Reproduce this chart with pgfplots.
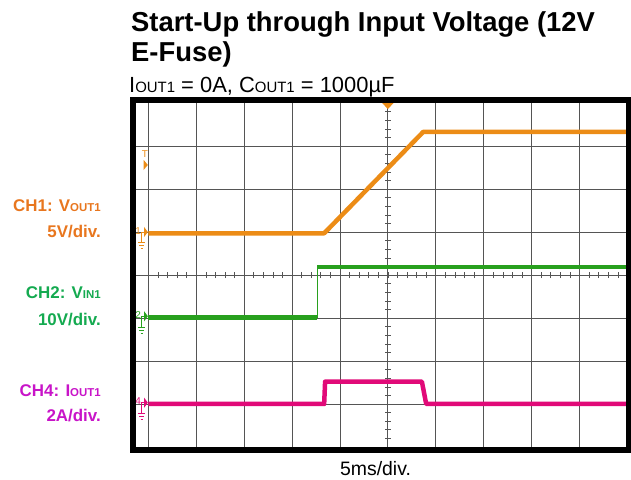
\documentclass[border=0pt]{standalone}
\usepackage{fontspec}
\setmainfont{Liberation Sans}
\usepackage{pgfplots}
\pgfplotsset{compat=1.18}

\definecolor{ch1}{RGB}{236,140,22}
\definecolor{ch1lab}{RGB}{232,118,30}
\definecolor{ch2}{RGB}{40,160,30}
\definecolor{ch2lab}{RGB}{20,170,80}
\definecolor{ch4}{RGB}{225,10,120}
\definecolor{ch4lab}{RGB}{200,20,200}
\definecolor{gridc}{RGB}{85,85,85}

\newcommand{\sm}[2]{{\fontsize{#1}{#1}\selectfont #2}}

% ground marker for a channel: #1 level, #2 number, #3 colour
\newcommand{\chmark}[3]{%
  \node[text=#3, font=\fontsize{10}{10}\selectfont, inner sep=0pt] at (axis cs:-0.21,#1+0.06) {#2};
  \draw[#3, line width=0.7bp] (axis cs:-0.14,#1-0.22) -- (axis cs:-0.14,#1+0.03) -- (axis cs:-0.09,#1+0.03);
  \draw[#3, line width=0.7bp] (axis cs:-0.22,#1-0.22) -- (axis cs:-0.06,#1-0.22)
        (axis cs:-0.19,#1-0.29) -- (axis cs:-0.09,#1-0.29)
        (axis cs:-0.16,#1-0.36) -- (axis cs:-0.12,#1-0.36);
  \fill[#3] (axis cs:-0.09,#1+0.15) -- (axis cs:-0.01,#1+0.03) -- (axis cs:-0.09,#1-0.09) -- cycle;
}

\begin{document}
\begin{tikzpicture}
\useasboundingbox (0,0) rectangle (631bp,480bp);

\begin{axis}[
  name=ax,
  at={(136bp,33bp)}, anchor=south west,
  scale only axis,
  width=490bp, height=344bp,
  xmin=-0.257, xmax=9.97,
  ymin=0, ymax=8,
  xtick={0,...,9}, ytick={1,...,7},
  xticklabels={}, yticklabels={},
  major tick length=0pt,
  grid=major,
  major grid style={gridc, line width=0.8bp},
  axis line style={draw=none},
  clip mode=individual,
]

% centre graticule with minor ticks
\draw[gridc, line width=0.8bp] (axis cs:5,0) -- (axis cs:5,8);
\pgfplotsinvokeforeach{0.2,0.4,...,7.9}{
  \draw[gridc, line width=0.6bp] (axis cs:4.94,#1) -- (axis cs:5.06,#1);
}
\pgfplotsinvokeforeach{0.2,0.4,...,9.9}{
  \draw[gridc, line width=0.6bp] (axis cs:#1,3.93) -- (axis cs:#1,4.07);
}

% CH2: VIN1
\addplot[ch2, line width=0.8bp] coordinates {(3.53,3.01) (3.53,4.19)};
\addplot[ch2, line width=4.5bp] coordinates {(0,3.01) (3.53,3.01)};
\addplot[ch2, line width=4.5bp] coordinates {(3.53,4.19) (10,4.19)};

% CH4: IOUT1
\addplot[ch4, line width=4.5bp, line join=round] coordinates {
  (0,1.0) (3.67,1.0) (3.69,1.52) (5.71,1.52) (5.80,1.0) (10,1.0)};

% CH1: VOUT1
\addplot[ch1, line width=4.5bp, line join=round] coordinates {
  (0,4.97) (3.67,4.97) (5.74,7.33) (10,7.33)};

% channel and trigger markers
\chmark{4.97}{1}{ch1}
\chmark{3.01}{2}{ch2}
\chmark{1.0}{4}{ch4}
\node[text=ch1, font=\fontsize{10}{10}\selectfont, inner sep=0pt] at (axis cs:-0.07,6.82) {T};
\fill[ch1] (axis cs:-0.1,6.68) -- (axis cs:-0.01,6.56) -- (axis cs:-0.1,6.44) -- cycle;
\fill[ch1] (axis cs:4.88,8) -- (axis cs:5.12,8) -- (axis cs:5,7.86) -- cycle;
\end{axis}

% thick scope frame
\draw[line width=6bp, line join=miter]
  ([xshift=-3bp,yshift=-3bp]ax.south west) rectangle ([xshift=3bp,yshift=3bp]ax.north east);

% titles
\node[anchor=base west, inner sep=0pt, font=\fontsize{27.5}{33}\selectfont\bfseries]
  at (131bp,448bp) {Start-Up through Input Voltage (12V};
\node[anchor=base west, inner sep=0pt, font=\fontsize{27.5}{33}\selectfont\bfseries]
  at (131bp,418.5bp) {E-Fuse)};
\node[anchor=base west, inner sep=0pt, font=\fontsize{22}{26}\selectfont]
  at (129bp,387bp) {I\sm{15}{OUT1} = 0A, C\sm{15}{OUT1} = 1000µF};

% channel labels
\begin{scope}[every node/.style={anchor=base east, inner sep=0pt, font=\fontsize{17}{20}\selectfont\bfseries}]
\node[text=ch1lab] at (101bp,268bp) {CH1: V\sm{11.5}{OUT1}};
\node[text=ch1lab] at (101bp,242bp) {5V/div.};
\node[text=ch2lab] at (101bp,181bp) {CH2: V\sm{11.5}{IN1}};
\node[text=ch2lab] at (101bp,154.5bp) {10V/div.};
\node[text=ch4lab] at (101bp,83.5bp) {CH4: I\sm{11.5}{OUT1}};
\node[text=ch4lab] at (101bp,58bp) {2A/div.};
\end{scope}

\node[anchor=base, inner sep=0pt, font=\fontsize{19.5}{23}\selectfont]
  at (375.5bp,4.3bp) {5ms/div.};
\end{tikzpicture}
\end{document}
